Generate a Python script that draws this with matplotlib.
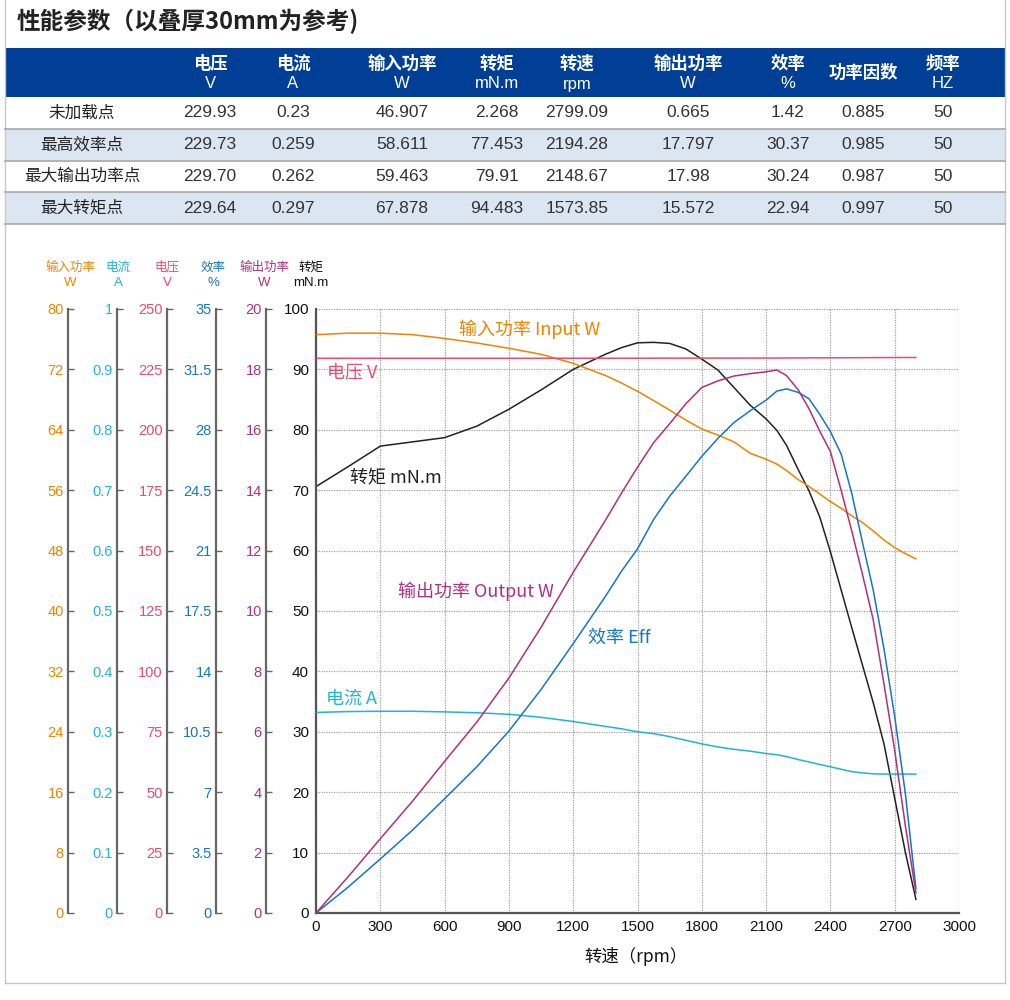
import numpy as np
import matplotlib.pyplot as plt
from matplotlib.patches import Rectangle

plt.rcParams['font.family'] = ['Liberation Sans', 'Noto Sans CJK SC']
NARROW = ['Liberation Sans Narrow', 'Liberation Sans', 'Noto Sans CJK SC']
CJK = ['Noto Sans CJK SC']

# 表格数据
TITLE = '性能参数（以叠厚30mm为参考)'
COL_NAMES = ['电压', '电流', '输入功率', '转矩', '转速', '输出功率', '效率', '功率因数', '频率']
COL_UNITS = ['V', 'A', 'W', 'mN.m', 'rpm', 'W', '%', '', 'HZ']
ROW_NAMES = ['未加载点', '最高效率点', '最大输出功率点', '最大转矩点']
ROW_NOLOAD = ['229.93', '0.23', '46.907', '2.268', '2799.09', '0.665', '1.42', '0.885', '50']
ROW_MAXEFF = ['229.73', '0.259', '58.611', '77.453', '2194.28', '17.797', '30.37', '0.985', '50']
ROW_MAXOUT = ['229.70', '0.262', '59.463', '79.91', '2148.67', '17.98', '30.24', '0.987', '50']
ROW_MAXTQ = ['229.64', '0.297', '67.878', '94.483', '1573.85', '15.572', '22.94', '0.997', '50']

# 曲线数据 (按转速从图上读取)
speed = [0, 150, 300, 450, 600, 750, 900, 1050, 1200, 1350, 1425, 1500, 1575, 1650,
         1725, 1800, 1875, 1950, 2025, 2100, 2150, 2195, 2250, 2300, 2350, 2400,
         2450, 2500, 2550, 2600, 2650, 2700, 2750, 2799]
torque = [70.6, 73.9, 77.3, 78.0, 78.7, 80.6, 83.4, 86.6, 90.0, 92.5, 93.6, 94.4, 94.48, 94.3,
          93.4, 91.7, 89.9, 87.0, 84.1, 81.8, 79.91, 77.45, 73.4, 69.9, 65.6, 59.8,
          53.5, 47.2, 41.0, 34.8, 28.0, 19.0, 10.0, 2.268]
input_w = [76.6, 76.8, 76.8, 76.6, 76.1, 75.5, 74.8, 74.0, 72.8, 71.2, 70.2, 69.1, 67.878, 66.6,
           65.3, 64.1, 63.3, 62.4, 60.9, 60.1, 59.463, 58.611, 57.4, 56.5, 55.5, 54.5,
           53.6, 52.6, 51.7, 50.6, 49.4, 48.4, 47.6, 46.907]
current = [0.332, 0.3335, 0.334, 0.334, 0.333, 0.3315, 0.329, 0.324, 0.317, 0.309, 0.305, 0.300, 0.297, 0.292,
           0.286, 0.280, 0.275, 0.271, 0.268, 0.264, 0.262, 0.259, 0.254, 0.250, 0.246, 0.242,
           0.238, 0.234, 0.232, 0.2305, 0.230, 0.230, 0.230, 0.23]
voltage = [229.6, 229.6, 229.6, 229.6, 229.6, 229.6, 229.6, 229.6, 229.62, 229.62, 229.63, 229.63, 229.64, 229.65,
           229.66, 229.67, 229.68, 229.68, 229.69, 229.69, 229.70, 229.73, 229.75, 229.77, 229.79, 229.8,
           229.82, 229.84, 229.86, 229.88, 229.9, 229.91, 229.92, 229.93]
output_w = [0, 1.2, 2.46, 3.7, 5.02, 6.32, 7.78, 9.46, 11.28, 13.0, 13.9, 14.76, 15.572, 16.2,
            16.86, 17.4, 17.62, 17.78, 17.86, 17.92, 17.98, 17.797, 17.32, 16.7, 15.96, 15.28,
            14.0, 12.64, 11.2, 9.7, 7.58, 5.38, 2.88, 0.665]
eff = [0, 1.5, 3.13, 4.8, 6.62, 8.47, 10.54, 12.95, 15.61, 18.34, 19.8, 21.1, 22.8, 24.15,
       25.3, 26.46, 27.5, 28.42, 29.1, 29.72, 30.24, 30.37, 30.17, 29.8, 28.9, 27.9,
       26.6, 24.3, 21.45, 18.7, 15.3, 11.38, 6.9, 1.42]

C_IN = '#f08300'
C_CUR = '#1fb5d3'
C_VOL = '#ee4a6a'
C_EFF = '#1675c8'
C_OUT = '#b02f80'
C_TQ = '#222222'

fig = plt.figure(figsize=(10.1, 10.0), dpi=100)

# 背景层: 像素坐标
bg = fig.add_axes([0, 0, 1, 1])
bg.set_xlim(0, 1010)
bg.set_ylim(1000, 0)
bg.axis('off')

# 外框
bg.plot([5, 5], [0, 983], color='#c8c8c8', lw=1)
bg.plot([1005, 1005], [0, 983], color='#c8c8c8', lw=1)
bg.plot([5, 1005], [983, 983], color='#c8c8c8', lw=1)

bg.text(17, 21, TITLE, fontsize=17, va='center', ha='left', color='#222', weight='bold', family=CJK)

# 表头
col_x = [210, 293, 402, 497, 577, 688, 788, 863, 943]
bg.add_patch(Rectangle((5, 48), 1000, 49, color='#003f95', lw=0))
for x, name, unit in zip(col_x, COL_NAMES, COL_UNITS):
    if unit:
        bg.text(x, 64, name, color='white', fontsize=12.5, weight='bold', ha='center', va='center', family=CJK)
        bg.text(x, 84, unit, color='white', fontsize=12, ha='center', va='center')
    else:
        bg.text(x, 73, name, color='white', fontsize=12.5, weight='bold', ha='center', va='center', family=CJK)

rows = [ROW_NOLOAD, ROW_MAXEFF, ROW_MAXOUT, ROW_MAXTQ]
row_h = 31.8
for i, (label, vals) in enumerate(zip(ROW_NAMES, rows)):
    y0 = 97 + i * row_h
    if i % 2 == 1:
        bg.add_patch(Rectangle((5, y0), 1000, row_h, color='#dce6f2', lw=0))
    bg.plot([5, 1005], [y0 + row_h, y0 + row_h], color='#a8a8a8', lw=1.2)
    yc = y0 + row_h / 2
    bg.text(82, yc, label, fontsize=12, ha='center', va='center', color='#222', family=CJK)
    for x, v in zip(col_x, vals):
        bg.text(x, yc, v, fontsize=12.5, ha='center', va='center', color='#333')

# 主坐标 (转矩)
ax = fig.add_axes([316 / 1010, 87 / 1000, 643 / 1010, 604 / 1000])
ax.set_xlim(0, 3000)
ax.set_ylim(0, 100)
ax.set_xticks(range(0, 3001, 300))
ax.set_yticks(range(0, 101, 10))
ax.grid(True, color='#a0a0a0', linestyle=(0, (1, 1)), lw=0.9)
for s in ['top', 'right']:
    ax.spines[s].set_visible(False)
for s in ['left', 'bottom']:
    ax.spines[s].set_color('#555')
    ax.spines[s].set_linewidth(1.6)
ax.tick_params(length=0, labelsize=11, pad=5, colors='#111')
for lab in ax.get_xticklabels() + ax.get_yticklabels():
    lab.set_family(NARROW)
ax.plot(speed, torque, color=C_TQ, lw=1.1)

# 左侧附加坐标
axes_spec = [
    ('输入功率', 'W', C_IN, 80, 8, 248, input_w, 70),
    ('电流', 'A', C_CUR, 1, 0.1, 199, current, 118),
    ('电压', 'V', C_VOL, 250, 25, 149, voltage, 167),
    ('效率', '%', C_EFF, 35, 3.5, 100, eff, 213),
    ('输出功率', 'W', C_OUT, 20, 2, 50, output_w, 264),
]
for name, unit, color, ymax, step, off, vals, tx in axes_spec:
    t = ax.twinx()
    t.set_ylim(0, ymax)
    for s in ['top', 'right', 'bottom']:
        t.spines[s].set_visible(False)
    t.spines['left'].set_visible(True)
    t.spines['left'].set_position(('outward', off * 0.72))
    t.spines['left'].set_color('#666')
    t.spines['left'].set_linewidth(1.6)
    t.yaxis.set_ticks_position('left')
    t.yaxis.set_label_position('left')
    t.set_yticks(np.arange(0, ymax + step / 2, step))
    t.yaxis.set_major_formatter(lambda v, _: f'{v:g}')
    t.tick_params(axis='y', direction='in', length=4, width=1, color='#666',
                  labelcolor=color, labelsize=10.5, pad=3)
    for lab in t.get_yticklabels():
        lab.set_family(NARROW)
    t.plot(speed, vals, color=color, lw=1.1)
    bg.text(tx, 267, name, color=color, fontsize=9, ha='center', va='center', family=CJK)
    bg.text(tx, 283, unit, color=color, fontsize=9.5, ha='center', va='center', family=NARROW)

bg.text(311, 267, '转矩', color='#111', fontsize=9, ha='center', va='center', family=CJK)
bg.text(311, 283, 'mN.m', color='#111', fontsize=9.5, ha='center', va='center', family=NARROW)

# 曲线标注
top = fig.axes[-1]
labels = [
    (667, 96.7, '输入功率 Input W', C_IN),
    (51, 89.4, '电压 V', C_VOL),
    (159, 72.0, '转矩 mN.m', C_TQ),
    (383, 53.3, '输出功率 Output W', C_OUT),
    (1269, 45.5, '效率 Eff', C_EFF),
    (47, 35.4, '电流 A', C_CUR),
]
for x, y, s, c in labels:
    top.text(x, y, s, transform=ax.transData, color=c, fontsize=13, ha='left', va='center',
             family=CJK, zorder=10)

bg.text(636, 956, '转速（rpm）', fontsize=12.5, ha='center', va='center', color='#111', family=CJK)

fig.savefig('out.png', dpi=100)
